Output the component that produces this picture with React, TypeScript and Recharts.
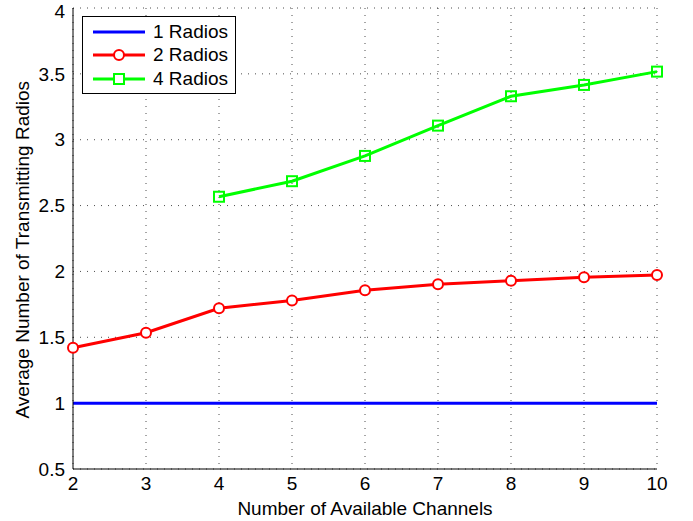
import React from "react";
import {CartesianGrid, Line, LineChart, XAxis, YAxis} from "recharts";

const channels = [2, 3, 4, 5, 6, 7, 8, 9, 10];
const radios1 = [1, 1, 1, 1, 1, 1, 1, 1, 1];
const radios2 = [1.42, 1.535, 1.72, 1.78, 1.857, 1.902, 1.93, 1.955, 1.973];
const radios4 = [null, null, 2.567, 2.685, 2.877, 3.107, 3.33, 3.416, 3.517];
const yTicks = [0.5, 1, 1.5, 2, 2.5, 3, 3.5, 4];

const FONT = "'Liberation Sans', Arial, sans-serif";
const FS = 19;

const data = channels.map((c, i) => ({
    ch: c,
    r1: radios1[i],
    r2: radios2[i],
    r4: radios4[i],
}));

const SquareDot = (props: any) => {
    const {cx, cy, value} = props;
    if (value == null || cx == null || cy == null) return null;
    return <rect x={cx - 5} y={cy - 5} width={10} height={10} fill="none" stroke="#00ff00" strokeWidth={2}/>;
};

const series = [
    {name: "1 Radios", color: "#0000ff", marker: "none"},
    {name: "2 Radios", color: "#ff0000", marker: "circle"},
    {name: "4 Radios", color: "#00ff00", marker: "square"},
];

// legend drawn as an overlay so it doesn't shift the plot area
const LegendBox = () => (
    <div style={{
        position: "absolute",
        top: 16,
        left: 82,
        width: 154,
        height: 78,
        boxSizing: "border-box",
        border: "1px solid #000",
        background: "#fff",
        paddingTop: 3,
        fontFamily: FONT,
        fontSize: FS,
    }}>
        {series.map((s) => (
            <div key={s.name} style={{display: "flex", alignItems: "center", height: 23.5}}>
                <svg width={60} height={16} style={{marginLeft: 8}}>
                    <line x1={2} y1={8} x2={54} y2={8} stroke={s.color} strokeWidth={3}/>
                    {s.marker === "circle" && <circle cx={28} cy={8} r={5} fill="#fff" stroke={s.color} strokeWidth={2}/>}
                    {s.marker === "square" && <rect x={23} y={3} width={10} height={10} fill="#fff" stroke={s.color} strokeWidth={2}/>}
                </svg>
                <span style={{color: "#000", marginLeft: 2}}>{s.name}</span>
            </div>
        ))}
    </div>
);

export default function App() {
    return (
        <div style={{position: "fixed", top: 0, left: 0, width: 693, height: 521, background: "#fff"}}>
            <LineChart width={693} height={521} data={data} margin={{top: 8, right: 36, bottom: 22, left: 23}}>
                <CartesianGrid stroke="#000" strokeDasharray="1 6" strokeOpacity={0.7}/>
                <XAxis
                    dataKey="ch"
                    type="number"
                    domain={[2, 10]}
                    ticks={channels}
                    stroke="#000"
                    tickLine={false}
                    tick={{fill: "#000", fontFamily: FONT, fontSize: FS}}
                    label={{value: "Number of Available Channels", position: "insideBottom", offset: -16, fill: "#000", fontFamily: FONT, fontSize: FS}}
                />
                <XAxis xAxisId="top" dataKey="ch" type="number" domain={[2, 10]} orientation="top" height={0} tick={false} tickLine={false} stroke="#000"/>
                <YAxis
                    width={50}
                    domain={[0.5, 4]}
                    ticks={yTicks}
                    stroke="#000"
                    tickLine={false}
                    tick={{fill: "#000", fontFamily: FONT, fontSize: FS}}
                    label={{value: "Average Number of Transmitting Radios", angle: -90, position: "insideLeft", offset: -1, dy: 180, fill: "#000", fontFamily: FONT, fontSize: FS}}
                />
                <YAxis yAxisId="right" orientation="right" width={0} domain={[0.5, 4]} tick={false} tickLine={false} stroke="#000"/>
                <Line dataKey="r1" name="1 Radios" stroke="#0000ff" strokeWidth={3} dot={false} isAnimationActive={false}/>
                <Line dataKey="r2" name="2 Radios" stroke="#ff0000" strokeWidth={3}
                      dot={{r: 5, fill: "#fff", stroke: "#ff0000", strokeWidth: 2}} isAnimationActive={false}/>
                <Line dataKey="r4" name="4 Radios" stroke="#00ff00" strokeWidth={3}
                      dot={<SquareDot/>} connectNulls={false} isAnimationActive={false}/>
            </LineChart>
            <LegendBox/>
        </div>
    );
}
